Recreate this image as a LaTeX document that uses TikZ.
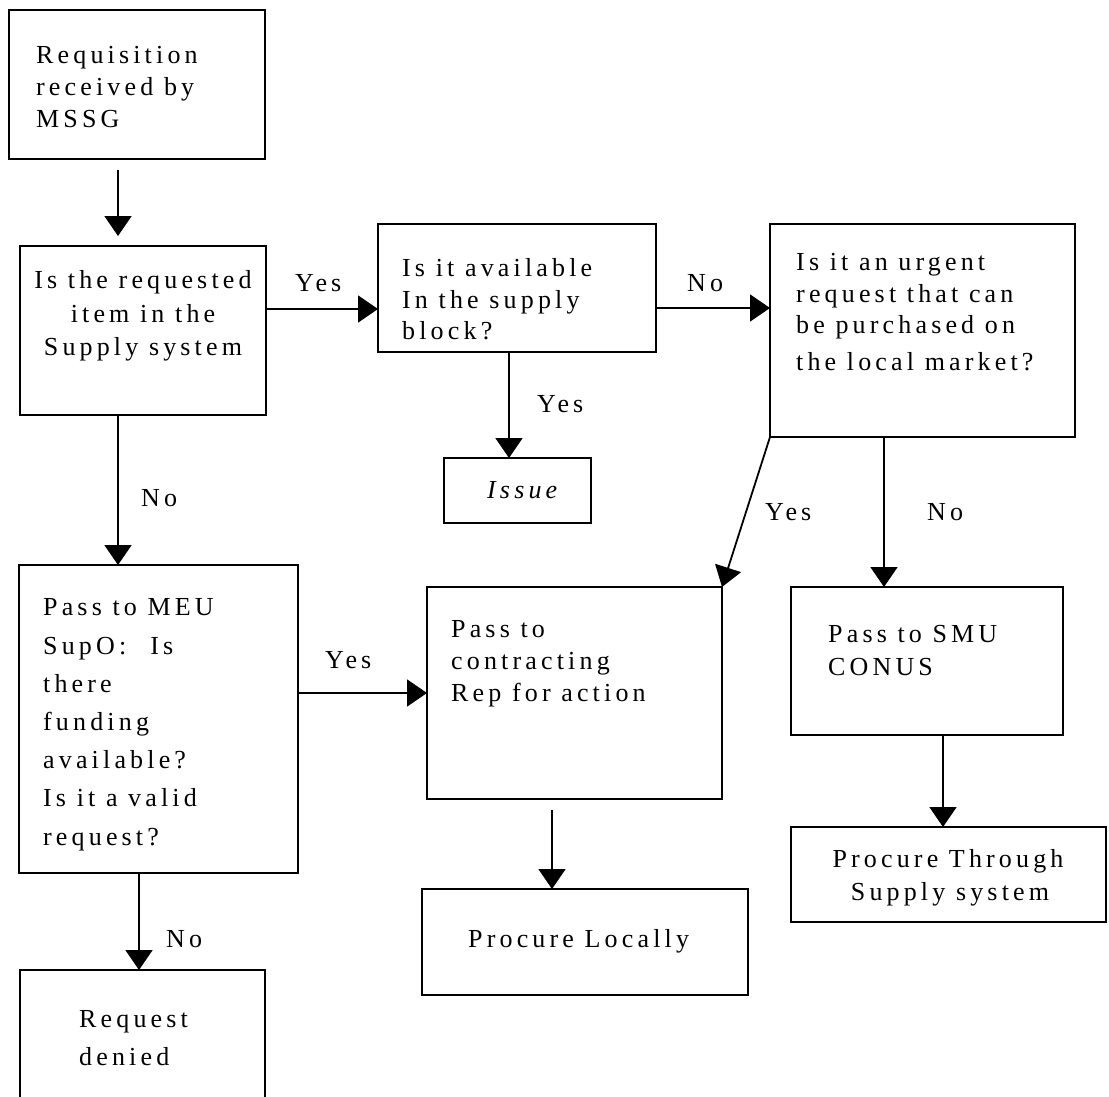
\documentclass[tikz,border=0pt]{standalone}
\usepackage{fontspec}
\setmainfont{Liberation Serif}[LetterSpace=16]
\usetikzlibrary{arrows.meta}
\begin{document}
\begin{tikzpicture}[x=1pt,y=-1pt,
  box/.style={draw, line width=1.8pt, inner sep=0pt, outer sep=0pt},
  txt/.style={font=\fontsize{26}{30}\selectfont, inner sep=0pt, anchor=base west},
  ctxt/.style={font=\fontsize{26}{30}\selectfont, inner sep=0pt, anchor=base},
  itxt/.style={font=\fontsize{26}{30}\selectfont\itshape, inner sep=0pt, anchor=base west},
  arr/.style={line width=1.8pt, -{Triangle[length=20pt,width=27pt]}}]
\useasboundingbox (0,0) rectangle (1109,1097);
\clip (0,0) rectangle (1109,1097);
% boxes
\node[box, minimum width=256pt, minimum height=149pt] (b1) at (137,84.5) {};
\node[box, minimum width=246pt, minimum height=169pt] (b2) at (143,330.5) {};
\node[box, minimum width=278pt, minimum height=128pt] (b3) at (517,288) {};
\node[box, minimum width=305pt, minimum height=213pt] (b4) at (922.5,330.5) {};
\node[box, minimum width=147pt, minimum height=65pt] (b5) at (517.5,490.5) {};
\node[box, minimum width=279pt, minimum height=308pt] (b6) at (158.5,719) {};
\node[box, minimum width=295pt, minimum height=212pt] (b7) at (574.5,693) {};
\node[box, minimum width=272pt, minimum height=148pt] (b8) at (927,661) {};
\node[box, minimum width=326pt, minimum height=106pt] (b9) at (585,942) {};
\node[box, minimum width=315pt, minimum height=95pt] (b10) at (948.5,874.5) {};
\node[box, minimum width=245pt, minimum height=160pt] (b11) at (142.5,1050) {};
% texts
\node[txt] (t1a) at (36,64) {Requisition};
\node[txt] (t1b) at (36,96) {received by};
\node[txt] (t1c) at (36,128) {MSSG};
\node[ctxt] (t2a) at (143,288) {Is the requested};
\node[ctxt] (t2b) at (143,322) {item in the};
\node[ctxt] (t2c) at (143,355) {Supply system};
\node[txt] (t3a) at (402,276) {Is it available};
\node[txt] (t3b) at (402,308) {In the supply};
\node[txt] (t3c) at (402,339) {block?};
\node[txt] (t4a) at (796,270) {Is it an urgent};
\node[txt] (t4b) at (796,302) {request that can};
\node[txt] (t4c) at (796,333) {be purchased on};
\node[txt] (t4d) at (796,370) {the local market?};
\node[itxt] (t5) at (487,498) {Issue};
\node[txt] (t6a) at (43,615) {Pass to MEU};
\node[txt] (t6b) at (43,654) {SupO:\hspace{24pt}Is};
\node[txt] (t6c) at (43,692) {there};
\node[txt] (t6d) at (43,730) {funding};
\node[txt] (t6e) at (43,768) {available?};
\node[txt] (t6f) at (43,806) {Is it a valid};
\node[txt] (t6g) at (43,845) {request?};
\node[txt] (t7a) at (451,637) {Pass to};
\node[txt] (t7b) at (451,669) {contracting};
\node[txt] (t7c) at (451,701) {Rep for action};
\node[txt] (t8a) at (828,642) {Pass to SMU};
\node[txt] (t8b) at (828,675) {CONUS};
\node[txt] (t9) at (468,947) {Procure Locally};
\node[ctxt] (t10a) at (948,867) {Procure Through};
\node[ctxt] (t10b) at (950,900) {Supply system};
\node[txt] (t11a) at (79,1027) {Request};
\node[txt] (t11b) at (79,1065) {denied};
% labels
\node[txt] (l1) at (295,291) {Yes};
\node[txt] (l2) at (687,291) {No};
\node[txt] (l3) at (537,412) {Yes};
\node[txt] (l4) at (141,506) {No};
\node[txt] (l5) at (325,668) {Yes};
\node[txt] (l6) at (765,520) {Yes};
\node[txt] (l7) at (927,520) {No};
\node[txt] (l8) at (166,947) {No};
% connectors
\draw[arr] ([xshift=-19pt,yshift=-11pt]b1.south) -- ([xshift=-25pt,yshift=10pt]b2.north);
\draw[arr] ([yshift=21.5pt]b2.east) -- ([yshift=-21pt]b3.west);
\draw[arr] ([yshift=-20pt]b3.east) -- ([yshift=22.5pt]b4.west);
\draw[arr] ([xshift=-8pt]b3.south) -- ([xshift=-8.5pt]b5.north);
\draw[arr] ([xshift=-25pt]b2.south) -- ([xshift=-40.5pt]b6.north);
\draw[arr] ([yshift=-(693pt-719pt)]b6.east) -- (b7.west);
\draw[arr] (b4.south west) -- (b7.north east);
\draw[arr] ([xshift=-38.5pt]b4.south) -- ([xshift=-43pt]b8.north);
\draw[arr] ([xshift=-22.5pt,yshift=-11pt]b7.south) -- ([xshift=-33pt]b9.north);
\draw[arr] ([xshift=16pt]b8.south) -- ([xshift=-5.5pt]b10.north);
\draw[arr] ([xshift=-19.5pt]b6.south) -- ([xshift=-3.5pt]b11.north);
\end{tikzpicture}
\end{document}
